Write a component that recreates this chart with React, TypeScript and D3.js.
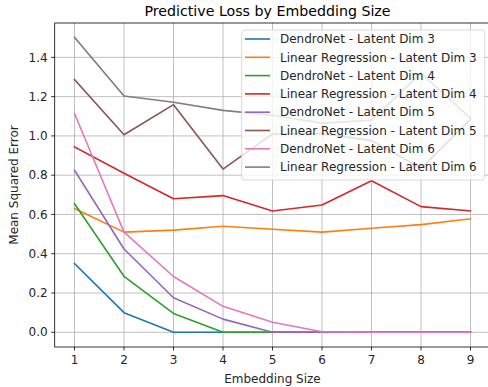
import React from "react"
import * as d3 from "d3"

const embeddingSizes = [1, 2, 3, 4, 5, 6, 7, 8, 9]

const dendroDim3 = [0.35, 0.1, 0, 0, 0, 0, 0, 0, 0]
const linearDim3 = [0.63, 0.51, 0.52, 0.54, 0.525, 0.51, 0.53, 0.548, 0.578]
const dendroDim4 = [0.655, 0.285, 0.096, 0, 0, 0, 0, 0, 0]
const linearDim4 = [0.944, 0.81, 0.68, 0.696, 0.618, 0.648, 0.772, 0.64, 0.618]
const dendroDim5 = [0.825, 0.424, 0.176, 0.067, 0, 0, 0, 0, 0]
const linearDim5 = [1.287, 1.006, 1.159, 0.831, 1.01, 1.012, 0.976, 0.835, 1.085]
const dendroDim6 = [1.114, 0.51, 0.284, 0.132, 0.051, 0.003, 0, 0, 0]
const linearDim6 = [1.502, 1.203, 1.171, 1.13, 1.105, 1.065, 1.08, 1.32, 1.09]

const seriesNames = [
  "DendroNet - Latent Dim 3",
  "Linear Regression - Latent Dim 3",
  "DendroNet - Latent Dim 4",
  "Linear Regression - Latent Dim 4",
  "DendroNet - Latent Dim 5",
  "Linear Regression - Latent Dim 5",
  "DendroNet - Latent Dim 6",
  "Linear Regression - Latent Dim 6",
]
const seriesValues = [
  dendroDim3, linearDim3, dendroDim4, linearDim4,
  dendroDim5, linearDim5, dendroDim6, linearDim6,
]
const yTicks = [0, 0.2, 0.4, 0.6, 0.8, 1.0, 1.2, 1.4]

const colors = d3.schemeCategory10

const App = () => {
  const width = 488
  const height = 387
  const margin = { top: 23, right: -2.3, bottom: 40, left: 54.7 }
  const font = "DejaVu Sans, sans-serif"

  const x = d3
    .scaleLinear()
    .domain([0.6, 9.4])
    .range([margin.left, width - margin.right])
  const y = d3
    .scaleLinear()
    .domain([-0.075, 1.575])
    .range([height - margin.bottom, margin.top])

  const line = d3
    .line<number>()
    .x((_, i) => x(embeddingSizes[i]))
    .y(d => y(d))

  const left = x.range()[0]
  const right = x.range()[1]
  const top = y.range()[1]
  const bottom = y.range()[0]

  // legend box
  const lg = { x: 241.7, y: 30, w: 243, h: 150, row: 18.3 }

  return (
    <svg
      width={width}
      height={height}
      style={{ position: "fixed", left: 0, top: 0, background: "#fff" }}
      fontFamily={font}
    >
      <rect width={width} height={height} fill="#fff" />
      {/* grid */}
      <g stroke="#b0b0b0" strokeWidth={0.8}>
        {embeddingSizes.map(d => (
          <line key={"gx" + d} x1={x(d)} x2={x(d)} y1={top} y2={bottom} />
        ))}
        {yTicks.map(d => (
          <line key={"gy" + d} x1={left} x2={right} y1={y(d)} y2={y(d)} />
        ))}
      </g>

      {/* series */}
      <g fill="none" strokeWidth={1.6} strokeLinejoin="round" strokeLinecap="square">
        {seriesValues.map((vals, i) => (
          <path key={seriesNames[i]} d={line(vals) || ""} stroke={colors[i]} />
        ))}
      </g>

      {/* spines */}
      <rect x={left} y={top} width={right - left} height={bottom - top} fill="none" stroke="#000" strokeWidth={0.8} />

      {/* x ticks */}
      <g fontSize={12} fill="#262626" textAnchor="middle">
        {embeddingSizes.map(d => (
          <g key={"tx" + d} transform={`translate(${x(d)},${bottom})`}>
            <line y2={3.5} stroke="#000" strokeWidth={0.8} />
            <text y={17}>{d}</text>
          </g>
        ))}
      </g>
      {/* y ticks */}
      <g fontSize={12} fill="#262626" textAnchor="end">
        {yTicks.map(d => (
          <g key={"ty" + d} transform={`translate(${left},${y(d)})`}>
            <line x2={-3.5} stroke="#000" strokeWidth={0.8} />
            <text x={-7} dy="0.35em">{d3.format(".1f")(d)}</text>
          </g>
        ))}
      </g>

      <text x={(left + 490.3) / 2} y={383} fontSize={12} textAnchor="middle" fill="#262626">
        Embedding Size
      </text>
      <text
        transform={`translate(18,${(top + bottom) / 2}) rotate(-90)`}
        fontSize={12}
        textAnchor="middle"
        fill="#262626"
      >
        Mean Squared Error
      </text>
      <text x={267.5} y={16} fontSize={14.2} textAnchor="middle" fill="#000">
        Predictive Loss by Embedding Size
      </text>

      {/* legend */}
      <g>
        <rect x={lg.x} y={lg.y} width={lg.w} height={lg.h} rx={3} fill="#fff" fillOpacity={0.8} stroke="#d0d0d0" strokeWidth={0.8} />
        {seriesNames.map((name, i) => {
          const cy = lg.y + 9 + i * lg.row
          return (
            <g key={"lg" + name}>
              <line x1={245} x2={270} y1={cy} y2={cy} stroke={colors[i]} strokeWidth={1.6} />
              <text x={280} y={cy} dy="0.35em" fontSize={12} fill="#262626">{name}</text>
            </g>
          )
        })}
      </g>
    </svg>
  )
}

export default App
